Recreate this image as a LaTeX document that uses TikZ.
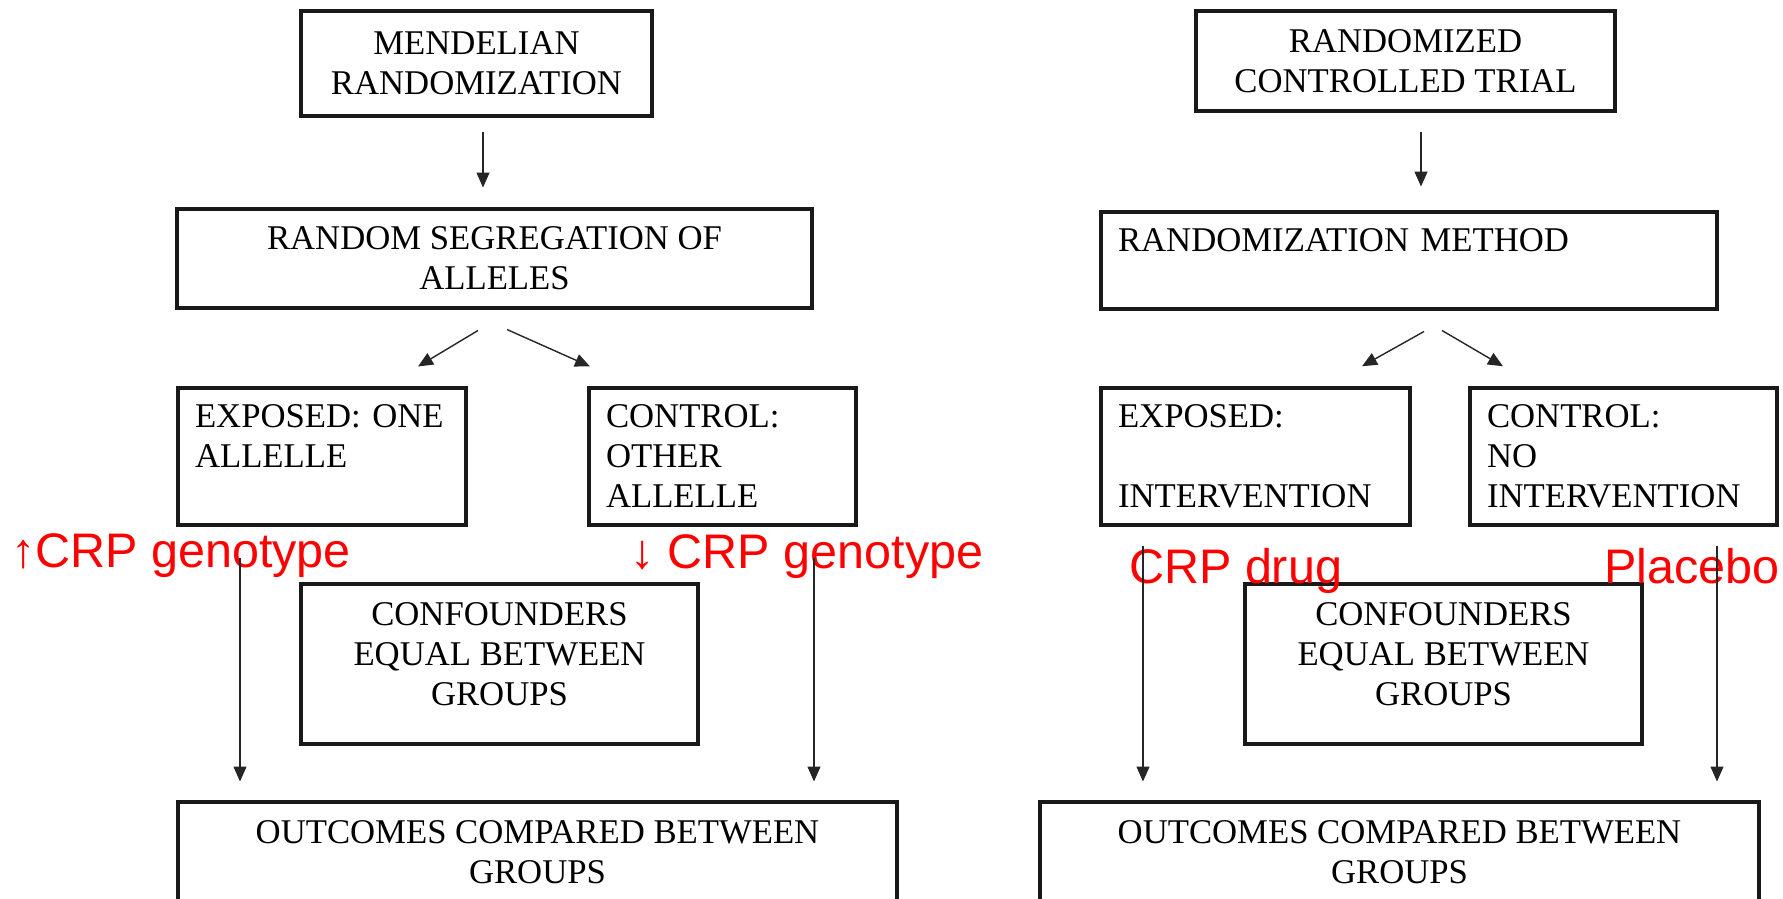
\documentclass[tikz,border=0pt]{standalone}
\usepackage{fontspec}
\setmainfont{Liberation Serif}
\newfontfamily\lblfont{Liberation Sans}
\usetikzlibrary{arrows.meta}

\tikzset{
  box/.style={draw=black!90, line width=4pt, align=center, inner sep=17pt,
    font=\fontsize{34.7}{40}\selectfont},
  leftbox/.style={box, align=left},
  arr/.style={-{Triangle[length=15pt,width=13pt]}, line width=1.4pt, draw=black!85},
  lbl/.style={text=red, inner sep=0pt, font=\lblfont\fontsize{48.5}{52}\selectfont},
}

\begin{document}
\begin{tikzpicture}[x=1pt, y=-1pt]
	\useasboundingbox (0,0) rectangle (1783,899);
	
	% Mendelsche Randomisierung
	\node[box, minimum width=351pt, minimum height=105pt] (mr) at (476.5,63.5) {MENDELIAN\\RANDOMIZATION};
	\node[box, minimum width=635pt, minimum height=99pt] (rsa) at (494.5,258.5) {RANDOM SEGREGATION OF\\ALLELES};
	\node[leftbox, text width=254pt, minimum height=137pt] (expL) at (322,456.5) {EXPOSED: ONE\\ALLELLE\\\mbox{}};
	\node[leftbox, text width=233pt, minimum height=137pt] (ctlL) at (722.5,456.5) {CONTROL:\\OTHER\\ALLELLE};
	\node[box, minimum width=397pt, minimum height=160pt] (confL) at (499.5,664) {CONFOUNDERS\\EQUAL BETWEEN\\GROUPS\\[-20pt]\mbox{}};
	\node[box, minimum width=719pt, minimum height=101pt] (outL) at (537.5,852.5) {OUTCOMES COMPARED BETWEEN\\GROUPS};
	
	% Randomisierte Studie
	\node[box, minimum width=419pt, minimum height=100pt] (rct) at (1405.5,61) {RANDOMIZED\\CONTROLLED TRIAL};
	\node[leftbox, text width=582pt, minimum height=95pt] (rmeth) at (1409,260.5) {RANDOMIZATION METHOD\\\mbox{}};
	\node[leftbox, text width=275pt, minimum height=137pt] (expR) at (1255.5,456.5) {EXPOSED:\\\mbox{}\\INTERVENTION};
	\node[leftbox, text width=273pt, minimum height=137pt] (ctlR) at (1623.5,456.5) {CONTROL:\\NO\\INTERVENTION};
	\node[box, minimum width=397pt, minimum height=160pt] (confR) at (1443.5,664) {CONFOUNDERS\\EQUAL BETWEEN\\GROUPS\\[-20pt]\mbox{}};
	\node[box, minimum width=719pt, minimum height=101pt] (outR) at (1399.5,852.5) {OUTCOMES COMPARED BETWEEN\\GROUPS};
	
	% Beschriftung rot
	\node[lbl, anchor=base west] (gUp) at (11,567) {↑CRP genotype};
	\node[lbl, anchor=base west] (gDown) at (630,568) {↓ CRP genotype};
	\node[lbl, anchor=base west] (drug) at (1129,583) {CRP drug};
	\node[lbl, anchor=base west] (plac) at (1604,583) {Placebo};
	
	% Pfeile links
	\draw[arr] ([xshift=6.5pt,yshift=-13.5pt]mr.south) -- ([xshift=-11.5pt,yshift=19.5pt]rsa.north);
	\draw[arr] ([xshift=-16.5pt,yshift=-20.5pt]rsa.south) -- ([xshift=96pt,yshift=19.5pt]expL.north);
	\draw[arr] ([xshift=12.5pt,yshift=-19.5pt]rsa.south) -- ([xshift=-132.5pt,yshift=19.5pt]ctlL.north);
	\draw[arr] ([xshift=-82pt,yshift=-30.5pt]expL.south) -- ([xshift=-297.5pt,yshift=18.5pt]outL.north);
	\draw[arr] ([xshift=91.5pt,yshift=-30.5pt]ctlL.south) -- ([xshift=276.5pt,yshift=18.5pt]outL.north);
	
	% Pfeile rechts
	\draw[arr] ([xshift=15.5pt,yshift=-18.5pt]rct.south) -- ([xshift=12pt,yshift=23.5pt]rmeth.north);
	\draw[arr] ([xshift=15pt,yshift=-20.5pt]rmeth.south) -- ([xshift=106.5pt,yshift=19.5pt]expR.north);
	\draw[arr] ([xshift=33pt,yshift=-19.5pt]rmeth.south) -- ([xshift=-120.5pt,yshift=19.5pt]ctlR.north);
	\draw[arr] ([xshift=-112.5pt,yshift=-18.5pt]expR.south) -- ([xshift=-256.5pt,yshift=18.5pt]outR.north);
	\draw[arr] ([xshift=93.5pt,yshift=-18.5pt]ctlR.south) -- ([xshift=317.5pt,yshift=18.5pt]outR.north);
\end{tikzpicture}
\end{document}
